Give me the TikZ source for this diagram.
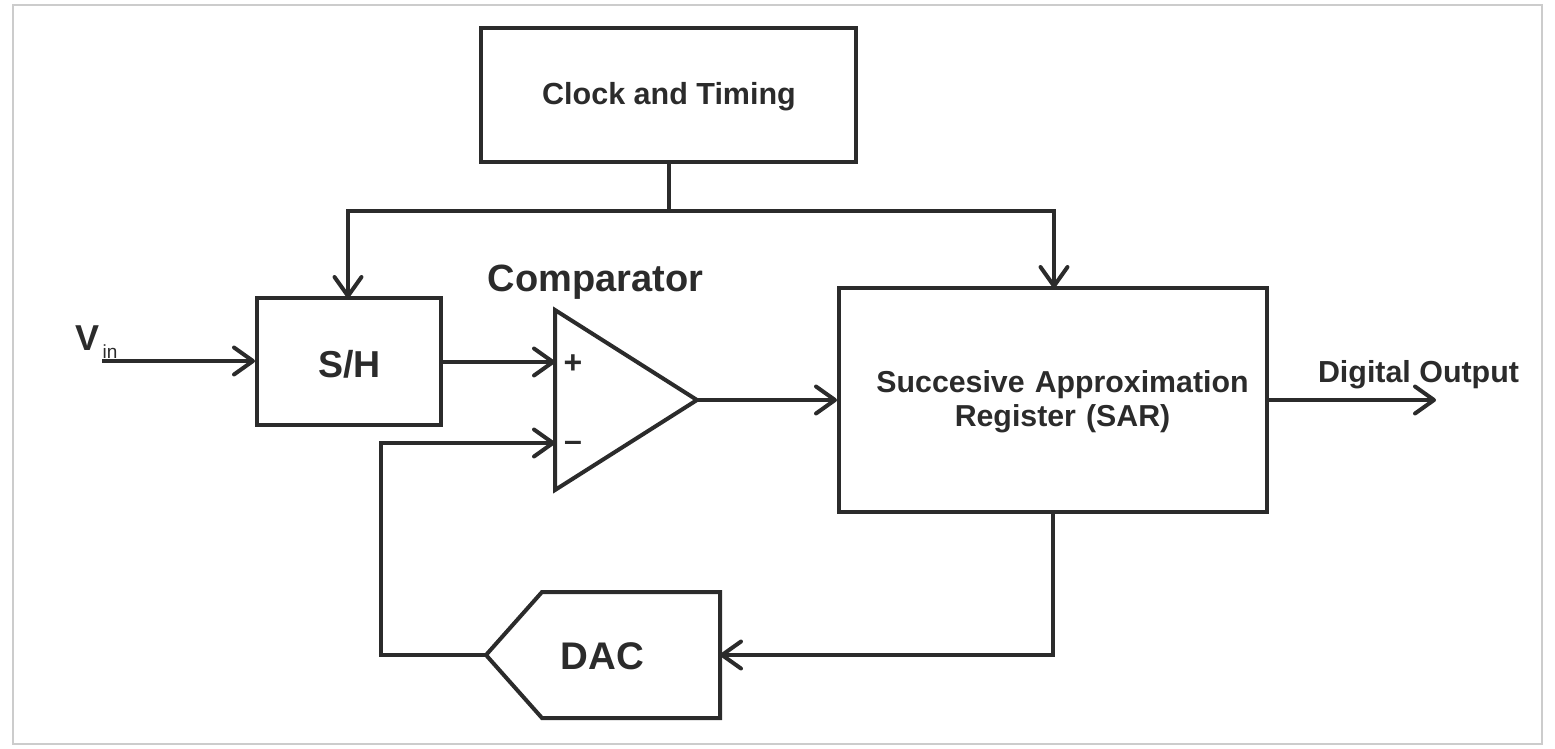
\documentclass[tikz,border=0pt]{standalone}
\usepackage{fontspec}
\setmainfont{Liberation Sans}
\usetikzlibrary{arrows.meta,calc}
\definecolor{ink}{HTML}{2B2B2B}
\definecolor{framegray}{HTML}{CCCCCC}
\tikzset{
  wire/.style={draw=ink,line width=4pt,line join=miter},
  arrowwire/.style={wire,-{Straight Barb[length=19pt,width=27pt,line width=4pt,round]}},
  block/.style={draw=ink,line width=4pt,inner sep=0pt,align=center},
  caption/.style={font=\fontsize{#1}{34}\selectfont\bfseries,text=ink,inner sep=0pt,align=center},
}
\begin{document}
\begin{tikzpicture}[x=1pt,y=-1pt]
  \useasboundingbox (0,0) rectangle (1555,748);
  \node[draw=framegray,line width=2pt,minimum width=1529pt,minimum height=739pt,inner sep=0pt] (frame) at (777.5,374.5) {};

  % Blocks
  \node[block,minimum width=375pt,minimum height=134pt] (clock) at (668.5,95) {};
  \node[block,minimum width=184pt,minimum height=127pt] (sh) at (349,361.5) {};
  \node[block,minimum width=428pt,minimum height=224pt] (sar) at (1053,400) {};
  \node[caption=30.5] (clocktext) at (669,97) {Clock and Timing};
  \node[caption=37.5] (shtext) at (349.5,364) {S/H};
  \node[caption=30.3,text width=428pt] (sartext) at (1062.5,402) {Succesive Approximation\\Register (SAR)};

  % Comparator
  \coordinate (cpa) at (555,310);
  \coordinate (cpb) at (555,490);
  \coordinate (cpout) at (697,400);
  \coordinate (cpplus) at (555,362);
  \coordinate (cpminus) at (555,443);
  \draw[wire] (cpa) -- (cpout) -- (cpb) -- cycle;
  \node[caption=38] (cptitle) at (595.5,282) {Comparator};
  \node[caption=32] (plus) at (573,364) {+};
  \node[caption=32] (minus) at (573,446) {–};

  % DAC
  \coordinate (dacin) at (720,655);
  \coordinate (dacout) at (486,655);
  \draw[wire] (720,592) -- (542,592) -- (dacout) -- (542,718) -- (720,718) -- cycle;
  \node[caption=38.5] (dactext) at (602.5,656) {DAC};

  % Signal labels
  \node[caption=36] (vlabel) at (88,338) {V};
  \node[font=\fontsize{19}{19}\selectfont,text=ink,inner sep=0pt] (vsub) at (110,352) {in};
  \node[caption=30.4] (outlabel) at (1418.5,375) {Digital Output};

  % Timing distribution
  \coordinate (tee) at (clock.south |- 0,211);
  \coordinate (shtop) at (348,298);
  \coordinate (sartop) at (1054,288);
  \draw[wire] (clock.south) -- (tee);
  \draw[arrowwire] (tee) -| (shtop);
  \draw[arrowwire] (tee) -| (sartop);

  % Signal path
  \coordinate (vstart) at (102,361);
  \coordinate (shin) at (sh.west |- vstart);
  \coordinate (shout) at (sh.east |- cpplus);
  \coordinate (sarin) at (sar.west |- cpout);
  \coordinate (sarout) at (sar.east |- cpout);
  \coordinate (outend) at (1436,400);
  \coordinate (sarbot) at (sar.south |- 0,512);
  \coordinate (fbleft) at (381,655);
  \draw[arrowwire] (vstart) -- (shin);
  \draw[arrowwire] (shout) -- (cpplus);
  \draw[arrowwire] (cpout) -- (sarin);
  \draw[arrowwire] (sarout) -- (outend);
  \draw[arrowwire] (sarbot) |- (dacin);
  \draw[arrowwire] (dacout) -- (fbleft) |- (cpminus);
\end{tikzpicture}
\end{document}
